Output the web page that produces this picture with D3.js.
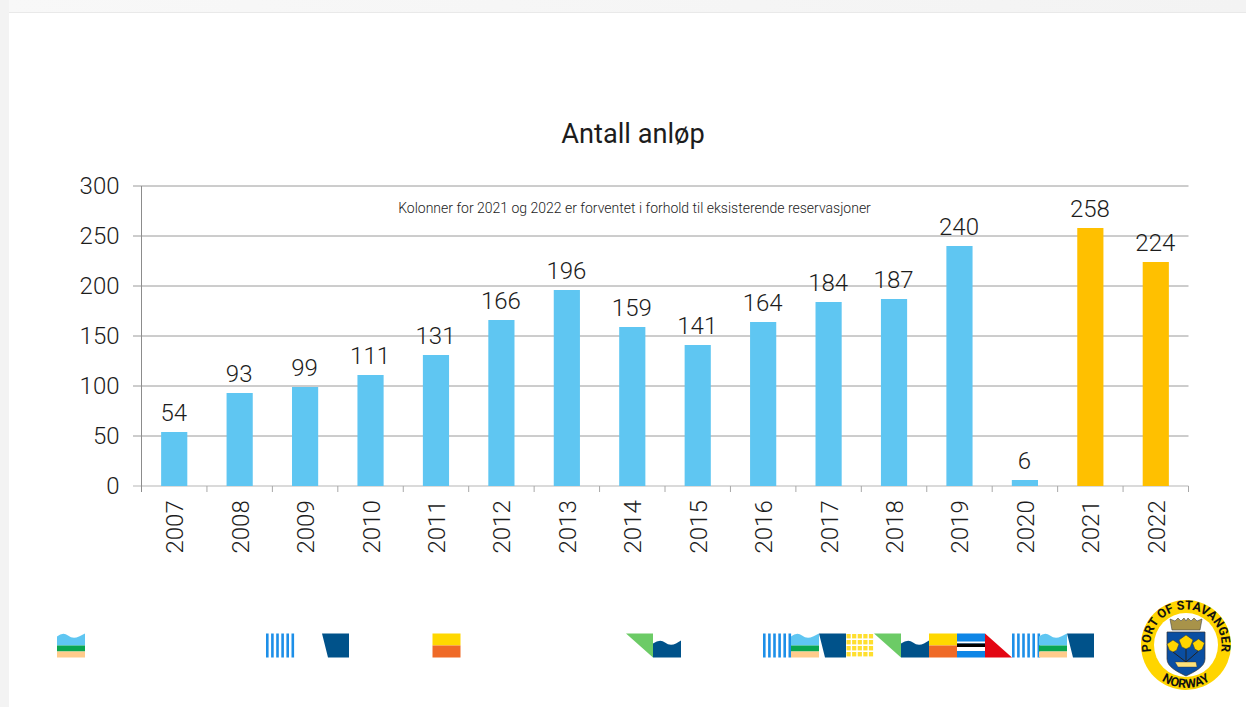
<!DOCTYPE html>
<html><head><meta charset="utf-8">
<script src="https://cdn.jsdelivr.net/npm/d3@7"></script>
<style>
html,body{margin:0;padding:0;background:#fff;overflow:hidden}
text{font-family:Roboto,"Liberation Sans",sans-serif;font-weight:300;fill:#1c1c1c}
</style></head><body><svg id="c" width="1246" height="707"></svg>
<script>
const years=["2007","2008","2009","2010","2011","2012","2013","2014","2015","2016","2017","2018","2019","2020","2021","2022"];
const visits=[54,93,99,111,131,166,196,159,141,164,184,187,240,6,258,224];
const expectedYears=["2021","2022"];
const yTicks=[0,50,100,150,200,250,300];
const titleText="Antall anløp";
const noteText="Kolonner for 2021 og 2022 er forventet i forhold til eksisterende reservasjoner";

const svg=d3.select("#c");
const defs=svg.append("defs");
const g1=defs.append("linearGradient").attr("id","fadeTop");
g1.append("stop").attr("offset","0").attr("stop-color","#f8f8f8");
g1.append("stop").attr("offset","1").attr("stop-color","#f3f3f3");
svg.append("rect").attr("width",1246).attr("height",12.5).attr("fill","url(#fadeTop)");
svg.append("rect").attr("width",9).attr("height",707).attr("fill","#f3f3f3");
svg.append("rect").attr("x",9).attr("y",12).attr("width",1237).attr("height",1).attr("fill","#e9e9e9");

const x=d3.scaleBand().domain(years).range([141.5,1188.5]).paddingInner(0.6).paddingOuter(0.3);
const xEdge=d3.scaleBand().domain(years).range([141.5,1188.5]);
const y=d3.scaleLinear().domain([0,300]).range([486,186]);

svg.append("text").attr("x",633).attr("y",143).attr("text-anchor","middle").attr("font-size",27.2).style("font-weight",400).text(titleText);

const grid=svg.append("g");
grid.selectAll("line").data(yTicks).join("line")
 .attr("x1",133).attr("x2",1188.5).attr("y1",d=>y(d)).attr("y2",d=>y(d))
 .attr("stroke",d=>d===0?"#b5b5b5":"#9a9a9a").attr("stroke-width",1);
svg.append("line").attr("x1",141.5).attr("x2",141.5).attr("y1",186).attr("y2",492).attr("stroke","#8c8c8c");
svg.append("g").selectAll("line").data(years.slice(1).concat(["end"])).join("line")
 .attr("x1",d=>d==="end"?1188.5:xEdge(d)).attr("x2",d=>d==="end"?1188.5:xEdge(d))
 .attr("y1",486).attr("y2",492).attr("stroke","#a8a8a8");

svg.append("g").selectAll("text").data(yTicks).join("text")
 .attr("x",119.5).attr("y",d=>y(d)+7.8).attr("text-anchor","end").attr("font-size",24).text(d=>d);

svg.append("text").attr("x",634.5).attr("y",213).attr("text-anchor","middle").attr("font-size",14).text(noteText);

const data=years.map((d,i)=>({year:d,v:visits[i]}));
svg.append("g").selectAll("rect").data(data).join("rect")
 .attr("x",d=>x(d.year)).attr("width",x.bandwidth())
 .attr("y",d=>y(d.v)).attr("height",d=>y(0)-y(d.v))
 .attr("fill",d=>expectedYears.includes(d.year)?"#ffc000":"#5fc6f2");
svg.append("g").selectAll("text").data(data).join("text")
 .attr("x",d=>x(d.year)+x.bandwidth()/2-.5).attr("y",d=>y(d.v)-11.5)
 .attr("text-anchor","middle").attr("font-size",24).text(d=>d.v);
svg.append("g").selectAll("text").data(years).join("text")
 .attr("transform",d=>`translate(${x(d)+x.bandwidth()/2+9},553.5) rotate(-90)`)
 .attr("font-size",24).text(d=>d);

// Footer decoration tiles (brand pattern)
const deco=svg.append("g");
const Y0=633.5,H=24;
function beach(xx){const w=28;
 deco.append("path").attr("d",`M${xx} ${Y0+3}Q${xx+6} ${Y0-2} ${xx+11} ${Y0+2}T${xx+22} ${Y0+3}L${xx+w} ${Y0}V${Y0+12}H${xx}Z`).attr("fill","#5fc6f2");
 deco.append("rect").attr("x",xx).attr("y",Y0+12).attr("width",w).attr("height",6).attr("fill","#0aa650");
 deco.append("rect").attr("x",xx).attr("y",Y0+18).attr("width",w).attr("height",6).attr("fill","#ffcb8c");}
function stripes(xx){d3.range(6).forEach(i=>deco.append("rect").attr("x",xx+i*5.1).attr("y",Y0).attr("width",2.6).attr("height",H).attr("fill","#1d8fe8"));}
function trap(xx){deco.append("path").attr("d",`M${xx} ${Y0}H${xx+27}V${Y0+H}H${xx+6}Z`).attr("fill","#00528a");}
function flag(xx){deco.append("rect").attr("x",xx).attr("y",Y0).attr("width",28).attr("height",12).attr("fill","#ffd800");
 deco.append("rect").attr("x",xx).attr("y",Y0+12).attr("width",28).attr("height",12).attr("fill","#ef6a27");}
function tri(xx){deco.append("path").attr("d",`M${xx} ${Y0}H${xx+27}V${Y0+H}Z`).attr("fill","#6ccb66");}
function wave(xx){deco.append("path").attr("d",`M${xx} ${Y0+H}V${Y0+10}Q${xx+7} ${Y0+5} ${xx+12} ${Y0+9}T${xx+23} ${Y0+10}L${xx+28} ${Y0+7}V${Y0+H}Z`).attr("fill","#00528a");}
function dots(xx){d3.range(4).forEach(r=>d3.range(5).forEach(c=>deco.append("rect").attr("x",xx+c*5.6+.5).attr("y",Y0+r*6+.5).attr("width",4.2).attr("height",4.4).attr("fill","#ffdf2e")));}
function lines(xx){deco.append("rect").attr("x",xx).attr("y",Y0).attr("width",28).attr("height",H).attr("fill","#0e86e6");
 deco.append("rect").attr("x",xx).attr("y",Y0+8).attr("width",28).attr("height",2).attr("fill","#fff");
 deco.append("rect").attr("x",xx).attr("y",Y0+10).attr("width",28).attr("height",3.5).attr("fill","#000");
 deco.append("rect").attr("x",xx).attr("y",Y0+13.5).attr("width",28).attr("height",4).attr("fill","#fff");}
function red(xx){deco.append("path").attr("d",`M${xx} ${Y0}L${xx+27} ${Y0+H}H${xx}Z`).attr("fill","#e30613");}
beach(57);stripes(266);trap(322);flag(432.5);tri(626);wave(653);
stripes(763);beach(791);trap(819);dots(846);tri(874);wave(901);flag(929);lines(957);red(985);stripes(1012);beach(1039);trap(1067);

// Port of Stavanger badge
const logo=svg.append("g").attr("transform","translate(1186,645)");
logo.append("circle").attr("r",45).attr("fill","#ffd500");
logo.append("circle").attr("r",32).attr("fill","#fff");
defs.append("path").attr("id","arcTop").attr("d","M-33 13A35.5 35.5 0 1 1 33 13");
defs.append("path").attr("id","arcBot").attr("d","M-39 18A43 43 0 0 0 39 18");
logo.append("text").attr("font-size",12.5).style("font-weight",700).style("fill","#111").append("textPath").attr("href","#arcTop").attr("startOffset","50%").attr("text-anchor","middle").text("PORT OF STAVANGER");
logo.append("text").attr("font-size",12.5).style("font-weight",700).style("fill","#111").append("textPath").attr("href","#arcBot").attr("startOffset","50%").attr("text-anchor","middle").text("NORWAY");
logo.append("path").attr("d","M-19 -13H19V14C19 22 8 27 0 31C-8 27 -19 22 -19 14Z").attr("fill","#0a4ea2").attr("stroke","#333").attr("stroke-width",.7);
logo.append("path").attr("d","M-16 -26L-14 -15H14L16 -26L11 -24L8 -27L5 -24L2 -27L0 -24L-2 -27L-5 -24L-8 -27L-11 -24Z").attr("fill","#a8934a").attr("stroke","#444").attr("stroke-width",.6);
[[-13,1,6],[0,-3,7],[12.5,0,6]].forEach(([a,b,r])=>{
 logo.append("path").attr("d",`M${a} ${b+r}L0 17`).attr("stroke","#222").attr("stroke-width",1).attr("fill","none");
 logo.append("path").attr("d",`M${a} ${b-r}L${a+r} ${b-2}L${a+r*.6} ${b+r*.7}L${a} ${b+r}L${a-r*.6} ${b+r*.7}L${a-r} ${b-2}Z`).attr("fill","#ffd500").attr("stroke","#333").attr("stroke-width",.5);
});
logo.append("path").attr("d","M-11 17H10L11 22H-8Z").attr("fill","#ffe27a").attr("stroke","#333").attr("stroke-width",.4);
</script></body></html>
